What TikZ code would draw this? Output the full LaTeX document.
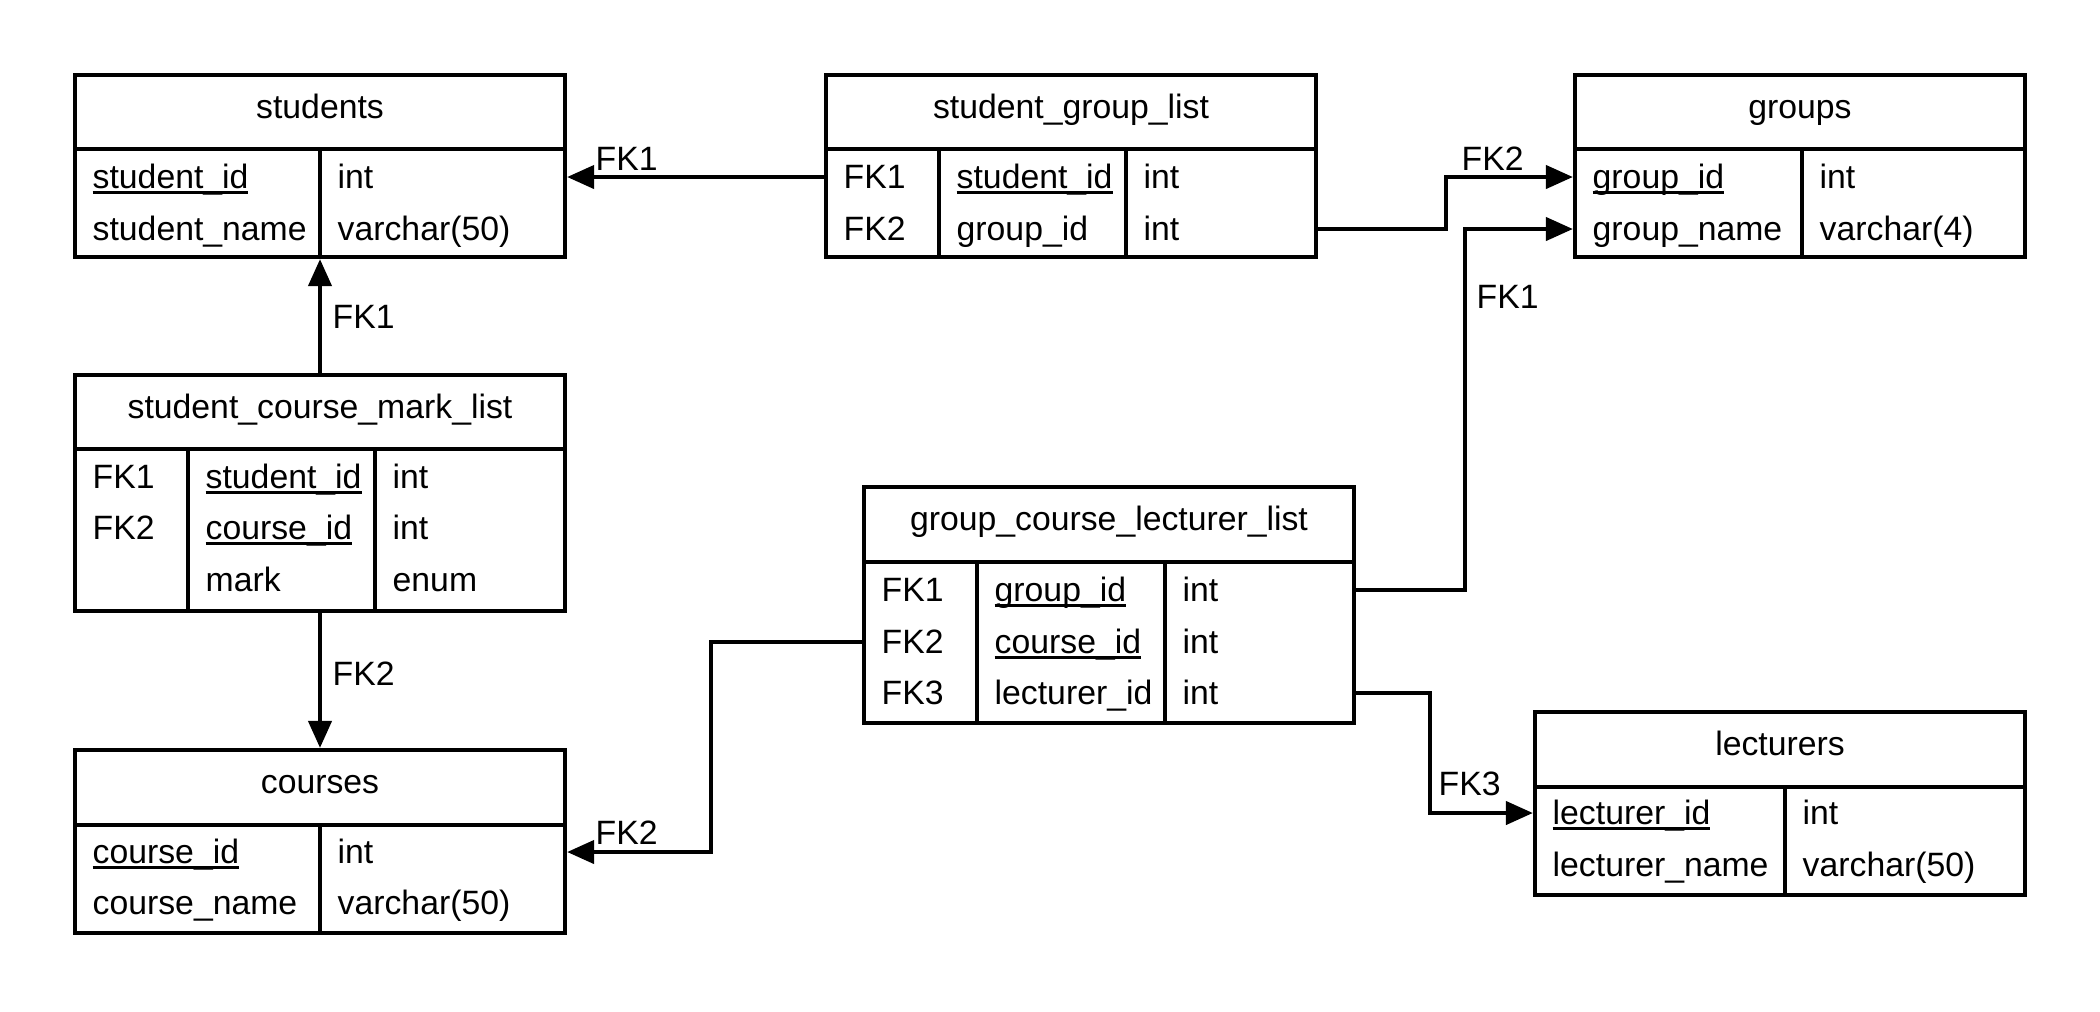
\documentclass[tikz,border=0pt]{standalone}
\usepackage{fontspec}
\setmainfont{Liberation Sans}
\usetikzlibrary{arrows.meta,fit}
\newcommand\pkey[1]{\setbox0\hbox{#1}\rlap{\rule[-1.5pt]{\wd0}{0.75pt}}\box0}

\begin{document}
\begin{tikzpicture}[x=0.01cm,y=-0.01cm,
    tbl/.style={draw,line width=1.2pt,inner sep=0pt,fit={#1}},
    cell/.style={anchor=west,inner sep=0pt,text height=6.4pt,text depth=0pt,font=\fontsize{9.6}{11}\selectfont},
    title/.style={cell,anchor=center},
    fk/.style={line width=1.2pt,-{Triangle[length=0.27cm,width=0.23cm]}}]
  \useasboundingbox (0,0) rectangle (2100,1011);
  % students
  \node[tbl={(75,75) (565,257)}] (students) {};
  \draw[line width=1.2pt] (75,149) -- (565,149) (320,149) -- (320,257);
  \node[title] (studentsT) at (320,107) {students};
  \node[cell] (stuid) at (92,177) {\pkey{student\_id}};
  \node[cell] (stuname) at (92,229) {student\_name};
  \node[cell] (stuidT) at (337,177) {int};
  \node[cell] (stunameT) at (337,229) {varchar(50)};
  % student_group_list
  \node[tbl={(826,75) (1316,257)}] (sgl) {};
  \draw[line width=1.2pt] (826,149) -- (1316,149) (939,149) -- (939,257) (1126,149) -- (1126,257);
  \node[title] (sglT) at (1071,107) {student\_group\_list};
  \node[cell] (sglk1) at (843,177) {FK1};
  \node[cell] (sglk2) at (843,229) {FK2};
  \node[cell] (sglstu) at (956,177) {\pkey{student\_id}};
  \node[cell] (sglgrp) at (956,229) {group\_id};
  \node[cell] (sglstuT) at (1143,177) {int};
  \node[cell] (sglgrpT) at (1143,229) {int};
  % groups
  \node[tbl={(1575,75) (2025,257)}] (groups) {};
  \draw[line width=1.2pt] (1575,149) -- (2025,149) (1802,149) -- (1802,257);
  \node[title] (groupsT) at (1800,107) {groups};
  \node[cell] (grpid) at (1592,177) {\pkey{group\_id}};
  \node[cell] (grpname) at (1592,229) {group\_name};
  \node[cell] (grpidT) at (1819,177) {int};
  \node[cell] (grpnameT) at (1819,229) {varchar(4)};
  % student_course_mark_list
  \node[tbl={(75,375) (565,611)}] (scml) {};
  \draw[line width=1.2pt] (75,449) -- (565,449) (188,449) -- (188,611) (375,449) -- (375,611);
  \node[title] (scmlT) at (320,407) {student\_course\_mark\_list};
  \node[cell] (scmlk1) at (92,477) {FK1};
  \node[cell] (scmlk2) at (92,528) {FK2};
  \node[cell] (scmlstu) at (205,477) {\pkey{student\_id}};
  \node[cell] (scmlcrs) at (205,528) {\pkey{course\_id}};
  \node[cell] (scmlmark) at (205,580) {mark};
  \node[cell] (scmlstuT) at (392,477) {int};
  \node[cell] (scmlcrsT) at (392,528) {int};
  \node[cell] (scmlmarkT) at (392,580) {enum};
  % group_course_lecturer_list
  \node[tbl={(864,487) (1354,723)}] (gcl) {};
  \draw[line width=1.2pt] (864,562) -- (1354,562) (977,562) -- (977,723) (1165,562) -- (1165,723);
  \node[title] (gclT) at (1109,519) {group\_course\_lecturer\_list};
  \node[cell] (gclk1) at (881,590) {FK1};
  \node[cell] (gclk2) at (881,642) {FK2};
  \node[cell] (gclk3) at (881,693) {FK3};
  \node[cell] (gclgrp) at (994,590) {\pkey{group\_id}};
  \node[cell] (gclcrs) at (994,642) {\pkey{course\_id}};
  \node[cell] (gcllec) at (994,693) {lecturer\_id};
  \node[cell] (gclgrpT) at (1182,590) {int};
  \node[cell] (gclcrsT) at (1182,642) {int};
  \node[cell] (gcllecT) at (1182,693) {int};
  % courses
  \node[tbl={(75,750) (565,933)}] (courses) {};
  \draw[line width=1.2pt] (75,825) -- (565,825) (320,825) -- (320,933);
  \node[title] (coursesT) at (320,782) {courses};
  \node[cell] (crsid) at (92,852) {\pkey{course\_id}};
  \node[cell] (crsname) at (92,903) {course\_name};
  \node[cell] (crsidT) at (337,852) {int};
  \node[cell] (crsnameT) at (337,903) {varchar(50)};
  % lecturers
  \node[tbl={(1535,712) (2025,895)}] (lecturers) {};
  \draw[line width=1.2pt] (1535,787) -- (2025,787) (1785,787) -- (1785,895);
  \node[title] (lecturersT) at (1780,744) {lecturers};
  \node[cell] (lecid) at (1552,813) {\pkey{lecturer\_id}};
  \node[cell] (lecname) at (1552,865) {lecturer\_name};
  \node[cell] (lecidT) at (1802,813) {int};
  \node[cell] (lecnameT) at (1802,865) {varchar(50)};
  % foreign keys
  \draw[fk] (sgl.west |- sglk1) -- (students.east |- sglk1);
  \draw[fk] (scml.north) -- (students.south);
  \draw[fk] (scml.south) -- (courses.north);
  \draw[fk] (gcl.west |- gclk2) -- ++(-151,0) |- (courses.east |- crsid);
  \draw[fk] (sgl.east |- sglk2) -- ++(128,0) |- (groups.west |- grpid);
  \draw[fk] (gcl.east |- gclk1) -- ++(109,0) |- (groups.west |- grpname);
  \draw[fk] (gcl.east |- gclk3) -- ++(74,0) |- (lecturers.west |- lecid);
  \node[cell] (fkA) at (595,159) {FK1};
  \node[cell] (fkB) at (332,317) {FK1};
  \node[cell] (fkC) at (332,674) {FK2};
  \node[cell] (fkD) at (595,833) {FK2};
  \node[cell] (fkE) at (1461,159) {FK2};
  \node[cell] (fkF) at (1476,297) {FK1};
  \node[cell] (fkG) at (1438,784) {FK3};
\end{tikzpicture}
\end{document}
